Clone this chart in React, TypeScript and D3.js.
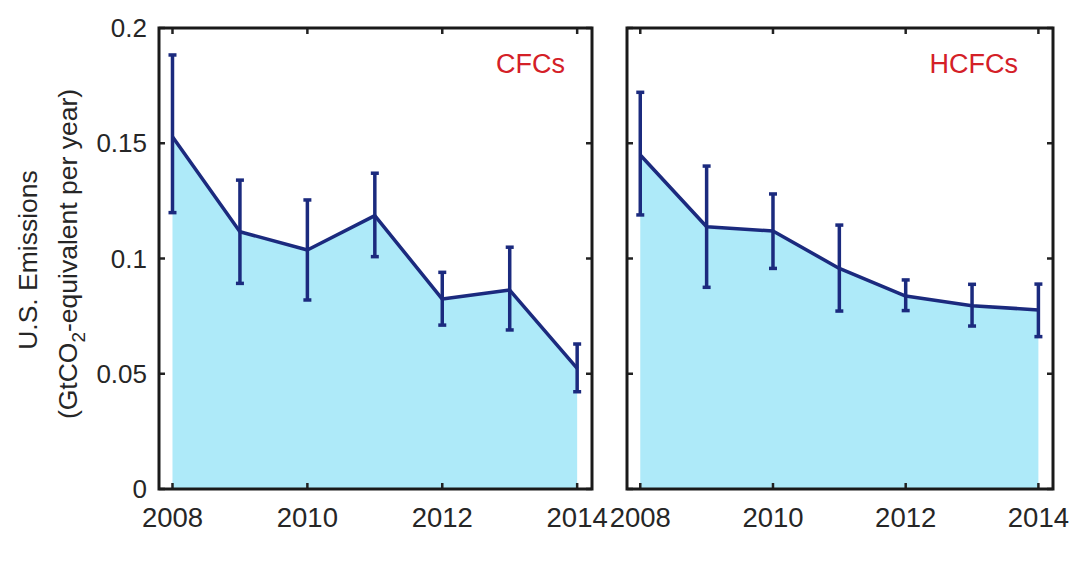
import React, { useRef, useEffect } from "react";
import * as d3 from "d3";

const years = [2008, 2009, 2010, 2011, 2012, 2013, 2014];

const cfcValues = [0.1528, 0.1116, 0.1037, 0.1186, 0.0824, 0.0863, 0.0523];
const cfcUpper = [0.1883, 0.134, 0.1254, 0.137, 0.094, 0.1049, 0.0629];
const cfcLower = [0.1199, 0.0892, 0.082, 0.1008, 0.0711, 0.069, 0.0422];

const hcfcValues = [0.1449, 0.1138, 0.1119, 0.0957, 0.0837, 0.0795, 0.0777];
const hcfcUpper = [0.1721, 0.1401, 0.128, 0.1145, 0.0907, 0.0888, 0.0889];
const hcfcLower = [0.1189, 0.0875, 0.0957, 0.0772, 0.0774, 0.0707, 0.0661];

const yTicks = [0, 0.05, 0.1, 0.15, 0.2];
const yTickLabels = ["0", "0.05", "0.1", "0.15", "0.2"];
const xTicks = [2008, 2010, 2012, 2014];

const FONT = "'Liberation Sans', Arial, sans-serif";
const LINE = "#1b2a7e";
const FILL = "#aeeaf9";
const TEXT = "#262626";

const App: React.FC = () => {
  const ref = useRef<SVGSVGElement>(null);

  useEffect(() => {
    if (!ref.current) return;
    const svg = d3.select(ref.current);
    svg.selectAll("*").remove();

    const top = 28;
    const bottom = 489;
    const y = d3.scaleLinear().domain([0, 0.2]).range([bottom, top]);

    const panels = [
      { left: 159, right: 592, name: "CFCs", vals: cfcValues, hi: cfcUpper, lo: cfcLower, yLabels: true, labelX: 565 },
      { left: 627, right: 1053, name: "HCFCs", vals: hcfcValues, hi: hcfcUpper, lo: hcfcLower, yLabels: false, labelX: 1018 },
    ];

    panels.forEach((p) => {
      const x = d3.scaleLinear().domain([2007.8, 2014.22]).range([p.left, p.right]);
      const g = svg.append("g");
      const pts = years.map((yr, i) => ({ yr, v: p.vals[i], hi: p.hi[i], lo: p.lo[i] }));

      // shaded area
      const area = d3.area<any>().x((d) => x(d.yr)).y0(y(0)).y1((d) => y(d.v));
      g.append("path").datum(pts).attr("d", area).attr("fill", FILL);

      // ticks on all four sides, pointing inward
      const tl = 6;
      yTicks.forEach((t) => {
        g.append("line").attr("x1", p.left).attr("x2", p.left + tl).attr("y1", y(t)).attr("y2", y(t))
          .attr("stroke", "#222").attr("stroke-width", 2.5);
        g.append("line").attr("x1", p.right).attr("x2", p.right - tl).attr("y1", y(t)).attr("y2", y(t))
          .attr("stroke", "#222").attr("stroke-width", 2.5);
      });
      xTicks.forEach((t) => {
        g.append("line").attr("x1", x(t)).attr("x2", x(t)).attr("y1", bottom).attr("y2", bottom - tl)
          .attr("stroke", "#222").attr("stroke-width", 2.5);
        g.append("line").attr("x1", x(t)).attr("x2", x(t)).attr("y1", top).attr("y2", top + tl)
          .attr("stroke", "#222").attr("stroke-width", 2.5);
        g.append("text").attr("x", x(t)).attr("y", 527).attr("text-anchor", "middle")
          .attr("font-family", FONT).attr("font-size", 27.5).attr("fill", TEXT).text(String(t));
      });

      if (p.yLabels) {
        yTicks.forEach((t, i) => {
          g.append("text").attr("x", p.left - 12).attr("y", y(t) + 9).attr("text-anchor", "end")
            .attr("font-family", FONT).attr("font-size", 26).attr("fill", TEXT).text(yTickLabels[i]);
        });
      }

      // error bars
      const cap = 4;
      pts.forEach((d) => {
        g.append("line").attr("x1", x(d.yr)).attr("x2", x(d.yr)).attr("y1", y(d.lo)).attr("y2", y(d.hi))
          .attr("stroke", LINE).attr("stroke-width", 3.5);
        [d.lo, d.hi].forEach((e) => {
          g.append("line").attr("x1", x(d.yr) - cap).attr("x2", x(d.yr) + cap).attr("y1", y(e)).attr("y2", y(e))
            .attr("stroke", LINE).attr("stroke-width", 3.5);
        });
      });

      // main line
      const line = d3.line<any>().x((d) => x(d.yr)).y((d) => y(d.v));
      g.append("path").datum(pts).attr("d", line).attr("fill", "none")
        .attr("stroke", LINE).attr("stroke-width", 3.5).attr("stroke-linejoin", "round");

      // frame
      g.append("rect").attr("x", p.left).attr("y", top).attr("width", p.right - p.left).attr("height", bottom - top)
        .attr("fill", "none").attr("stroke", "#1a1a1a").attr("stroke-width", 3);

      g.append("text").attr("x", p.labelX).attr("y", 73).attr("text-anchor", "end")
        .attr("font-family", FONT).attr("font-size", 27).attr("fill", "#d42027").text(p.name);
    });

    // y axis title
    svg.append("text").attr("transform", "translate(37,260) rotate(-90)").attr("text-anchor", "middle")
      .attr("font-family", FONT).attr("font-size", 26.5).attr("fill", TEXT).text("U.S. Emissions");
    const t2 = svg.append("text").attr("transform", "translate(77,254) rotate(-90)").attr("text-anchor", "middle")
      .attr("font-family", FONT).attr("font-size", 26.5).attr("fill", TEXT);
    t2.append("tspan").text("(GtCO");
    t2.append("tspan").attr("font-size", 19).attr("dy", 8).text("2");
    t2.append("tspan").attr("dy", -8).text("-equivalent per year)");
  }, []);

  return (
    <svg
      ref={ref}
      width={1080}
      height={565}
      style={{ position: "absolute", left: 0, top: 0, background: "#fff" }}
    />
  );
};

export default App;
